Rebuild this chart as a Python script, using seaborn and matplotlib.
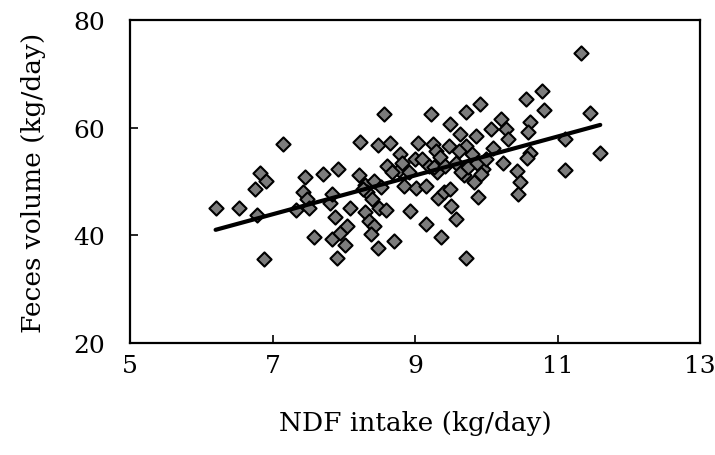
import pandas as pd
import matplotlib
matplotlib.use("Agg")
import matplotlib.pyplot as plt
import seaborn as sns

# NDF intake (kg/day) vs feces volume (kg/day)
ndf = [6.20, 6.53, 6.78, 6.76, 6.83, 6.91, 6.88, 7.14, 7.33, 7.46,
       7.42, 7.48, 7.51, 7.58, 7.71, 7.92, 7.80, 7.84, 7.88, 7.83,
       7.94, 8.04, 8.02, 7.91, 8.09, 8.23, 8.21, 8.30, 8.33, 8.40,
       8.30, 8.36, 8.42, 8.38, 8.48, 8.48, 8.57, 8.65, 8.61, 8.50,
       8.59, 8.71, 8.79, 8.77, 8.84, 8.93, 9.04, 9.00, 9.02, 9.15,
       9.16, 9.23, 9.25, 9.19, 9.31, 9.32, 9.36, 9.40, 9.49, 9.49,
       9.51, 9.57, 9.63, 9.71, 9.71, 9.71, 9.80, 9.69, 9.85, 9.91,
       9.89, 9.83, 9.96, 10.06, 10.10, 10.20, 10.24, 10.28, 10.31, 10.43,
       10.47, 10.44, 10.56, 10.61, 10.59, 10.61, 10.57, 10.78, 10.81, 11.11,
       11.11, 11.33, 11.46, 11.60,
       8.81, 8.91, 8.68, 9.10, 9.29, 9.35, 9.26, 9.42, 9.48, 9.61,
       9.58, 9.64, 9.74, 9.87, 9.93, 10.00, 8.43, 8.52, 8.27]
feces = [45.1, 45.1, 43.8, 48.5, 51.6, 50.1, 35.5, 57.0, 44.7, 50.9,
         48.0, 46.7, 45.1, 39.6, 51.4, 52.3, 46.0, 47.7, 43.3, 39.3,
         40.5, 41.8, 38.2, 35.8, 45.1, 57.4, 51.2, 49.3, 48.0, 46.7,
         44.3, 42.7, 41.8, 40.2, 37.7, 56.7, 62.6, 57.1, 52.9, 45.0,
         44.6, 38.9, 55.1, 52.2, 49.2, 44.5, 57.1, 54.1, 48.7, 49.1,
         42.0, 62.6, 56.9, 52.9, 51.7, 47.0, 39.6, 48.0, 60.6, 48.5,
         45.5, 43.1, 58.9, 62.9, 35.8, 56.6, 55.0, 51.1, 58.5, 64.4,
         47.1, 49.9, 52.3, 59.7, 56.3, 61.6, 53.4, 59.7, 57.9, 51.9,
         49.8, 47.6, 65.3, 61.0, 59.1, 55.3, 54.3, 66.8, 63.2, 57.9,
         52.2, 73.8, 62.7, 55.3,
         53.5, 51.7, 51.7, 54.1, 55.7, 54.5, 52.6, 52.9, 56.6, 55.7,
         53.5, 51.7, 52.6, 53.5, 51.4, 54.2, 50.1, 48.9, 48.6]

# regression line ends as drawn in the figure
line_x = [6.2, 11.6]
line_y = [41.0, 60.5]

df = pd.DataFrame({"ndf": ndf, "feces": feces})
df_line = pd.DataFrame({"x": line_x, "y": line_y})

sns.set_theme(style="white")
plt.rcParams["font.family"] = ["DejaVu Serif"]
plt.rcParams["text.color"] = "black"
plt.rcParams["axes.labelcolor"] = "black"

fig = plt.figure(figsize=(7.15, 4.56), dpi=100)
ax = fig.add_axes([0.182, 0.246, 0.797, 0.708])

sns.scatterplot(data=df, x="ndf", y="feces", marker="D", s=52,
                color="#7c7c7c", edgecolor="black", linewidth=1.5, ax=ax, zorder=3)
sns.lineplot(data=df_line, x="x", y="y", color="black", linewidth=3, ax=ax, zorder=4)

ax.set_xlim(5, 13)
ax.set_ylim(20, 80)
ax.set_xticks([5, 7, 9, 11, 13])
ax.set_yticks([20, 40, 60, 80])
ax.tick_params(direction="in", length=6, width=1.2, labelsize=18,
               bottom=True, left=True, colors="black")
ax.tick_params(axis="x", pad=8)
ax.tick_params(axis="y", pad=18)
for sp in ax.spines.values():
    sp.set_color("black")
    sp.set_linewidth(1.6)

ax.set_xlabel("NDF intake (kg/day)", fontsize=19, labelpad=24)
ax.set_ylabel("Feces volume (kg/day)", fontsize=19, labelpad=20)

plt.savefig("out.png", dpi=100)
plt.close()
